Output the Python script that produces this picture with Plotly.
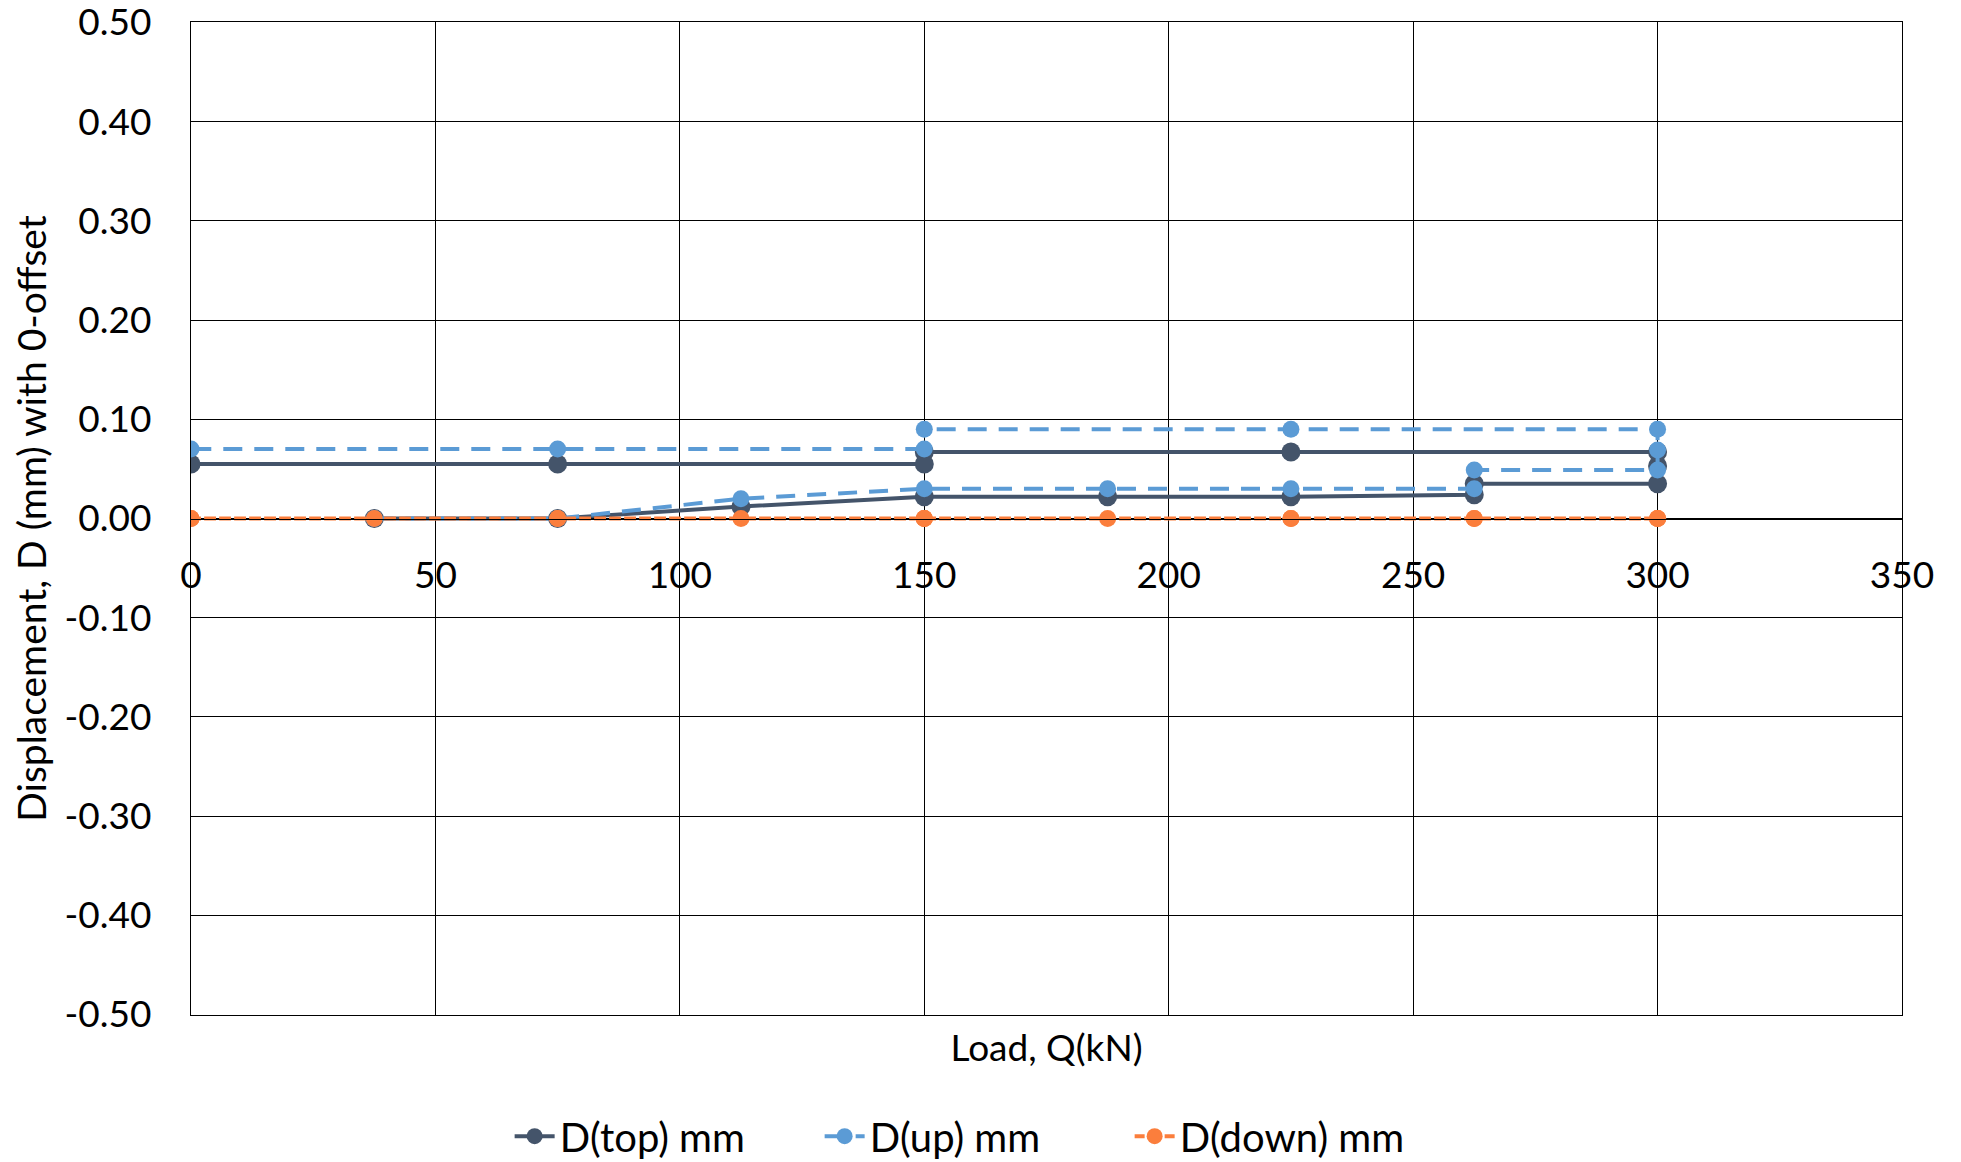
import plotly.graph_objects as go

# ---- data (None = break in the line) ----
load_top = [37.5, 75, 112.5, 150, 187.5, 225, 262.5, 262.5, 300, 300, 300, 225, 150, 150, 150, 75, 0]
d_top = [0.000, 0.000, 0.012, 0.022, 0.022, 0.022, 0.024, 0.035, 0.035, 0.053, 0.067, 0.067, 0.067, None, 0.055, 0.055, 0.055]

load_up = [37.5, 75, 112.5, 150, 187.5, 225, 262.5, 262.5, 300, 300, 300, 225, 150, 150, 150, 75, 0]
d_up = [0.000, 0.000, 0.020, 0.030, 0.030, 0.030, 0.030, 0.049, 0.049, 0.069, 0.090, 0.090, 0.090, None, 0.070, 0.070, 0.070]

load_down = [0, 37.5, 75, 112.5, 150, 187.5, 225, 262.5, 262.5, 300, 300, 300, 225, 150, 150, 75, 0]
d_down = [0, 0, 0, 0, 0, 0, 0, 0, 0, 0, 0, 0, 0, 0, 0, 0, 0]

x_ticks = [0, 50, 100, 150, 200, 250, 300, 350]
x_tick_text = ["0", "50", "100", "150", "200", "250", "300", "350"]
y_ticks = [-0.5, -0.4, -0.3, -0.2, -0.1, 0.0, 0.1, 0.2, 0.3, 0.4, 0.5]
y_tick_text = ["-0.50", "-0.40", "-0.30", "-0.20", "-0.10", "0.00",
               "0.10", "0.20", "0.30", "0.40", "0.50"]

FONT = "Lato"
C_TOP = "#44546A"
C_UP = "#5B9BD5"
C_DOWN = "#FB7E3C"

fig = go.Figure()
fig.add_trace(go.Scatter(
    x=load_top, y=d_top, name="D(top) mm", mode="lines+markers",
    line=dict(color=C_TOP, width=4),
    marker=dict(symbol="circle", size=19, color=C_TOP),
))
fig.add_trace(go.Scatter(
    x=load_up, y=d_up, name="D(up) mm", mode="lines+markers",
    line=dict(color=C_UP, width=4, dash="19px,12px"),
    marker=dict(symbol="circle", size=17, color=C_UP),
))
fig.add_trace(go.Scatter(
    x=load_down, y=d_down, name="D(down) mm", mode="lines+markers",
    line=dict(color=C_DOWN, width=4, dash="10px,5px"),
    marker=dict(symbol="circle", size=17, color=C_DOWN),
))
# empty trace so the bottom axis (carrying the title) is drawn
fig.add_trace(go.Scatter(x=[], y=[], xaxis="x2", yaxis="y", showlegend=False,
                         hoverinfo="skip"))

# page body has an 8px default margin; compensate
W, H = 1953, 1154
L, R, T, B = 183, 59, 14, 147

fig.update_layout(
    width=W, height=H,
    margin=dict(l=L, r=R, t=T, b=B, autoexpand=False),
    paper_bgcolor="white", plot_bgcolor="white",
    font=dict(family=FONT, size=37, color="black"),
    showlegend=True,
    legend=dict(
        orientation="h", x=0.458, y=-0.122, xanchor="center", yanchor="middle",
        font=dict(family=FONT, size=40, color="black"),
        itemwidth=40, entrywidth=255, traceorder="normal", bgcolor="rgba(0,0,0,0)",
    ),
    xaxis=dict(
        range=[0, 350], tickvals=x_ticks, ticktext=x_tick_text,
        showgrid=True, gridcolor="black", gridwidth=1.3,
        zeroline=False, showline=True, linecolor="black", linewidth=1.3,
        anchor="free", position=0.5, side="bottom",
        ticks="", ticklabelstandoff=24, ticklabeloverflow="allow",
        tickfont=dict(family=FONT, size=37, color="black"),
    ),
    xaxis2=dict(
        range=[0, 350], overlaying="x", anchor="y", side="bottom",
        showgrid=False, zeroline=False, showticklabels=False,
        showline=True, mirror=True, linecolor="black", linewidth=1.3,
        title=dict(text="Load, Q(kN)", standoff=19,
                   font=dict(family=FONT, size=37, color="black")),
    ),
    yaxis=dict(
        range=[-0.5005, 0.5005], tickvals=y_ticks, ticktext=y_tick_text,
        showgrid=True, gridcolor="black", gridwidth=1.3,
        zeroline=False, showline=True, mirror=True, linecolor="black", linewidth=1.3,
        ticks="", ticklabelstandoff=31, ticklabeloverflow="allow",
        tickfont=dict(family=FONT, size=37, color="black"),
        title=dict(text="Displacement, D (mm) with 0-offset", standoff=25,
                   font=dict(family=FONT, size=39, color="black")),
    ),
)

fig.write_html("out.html")
